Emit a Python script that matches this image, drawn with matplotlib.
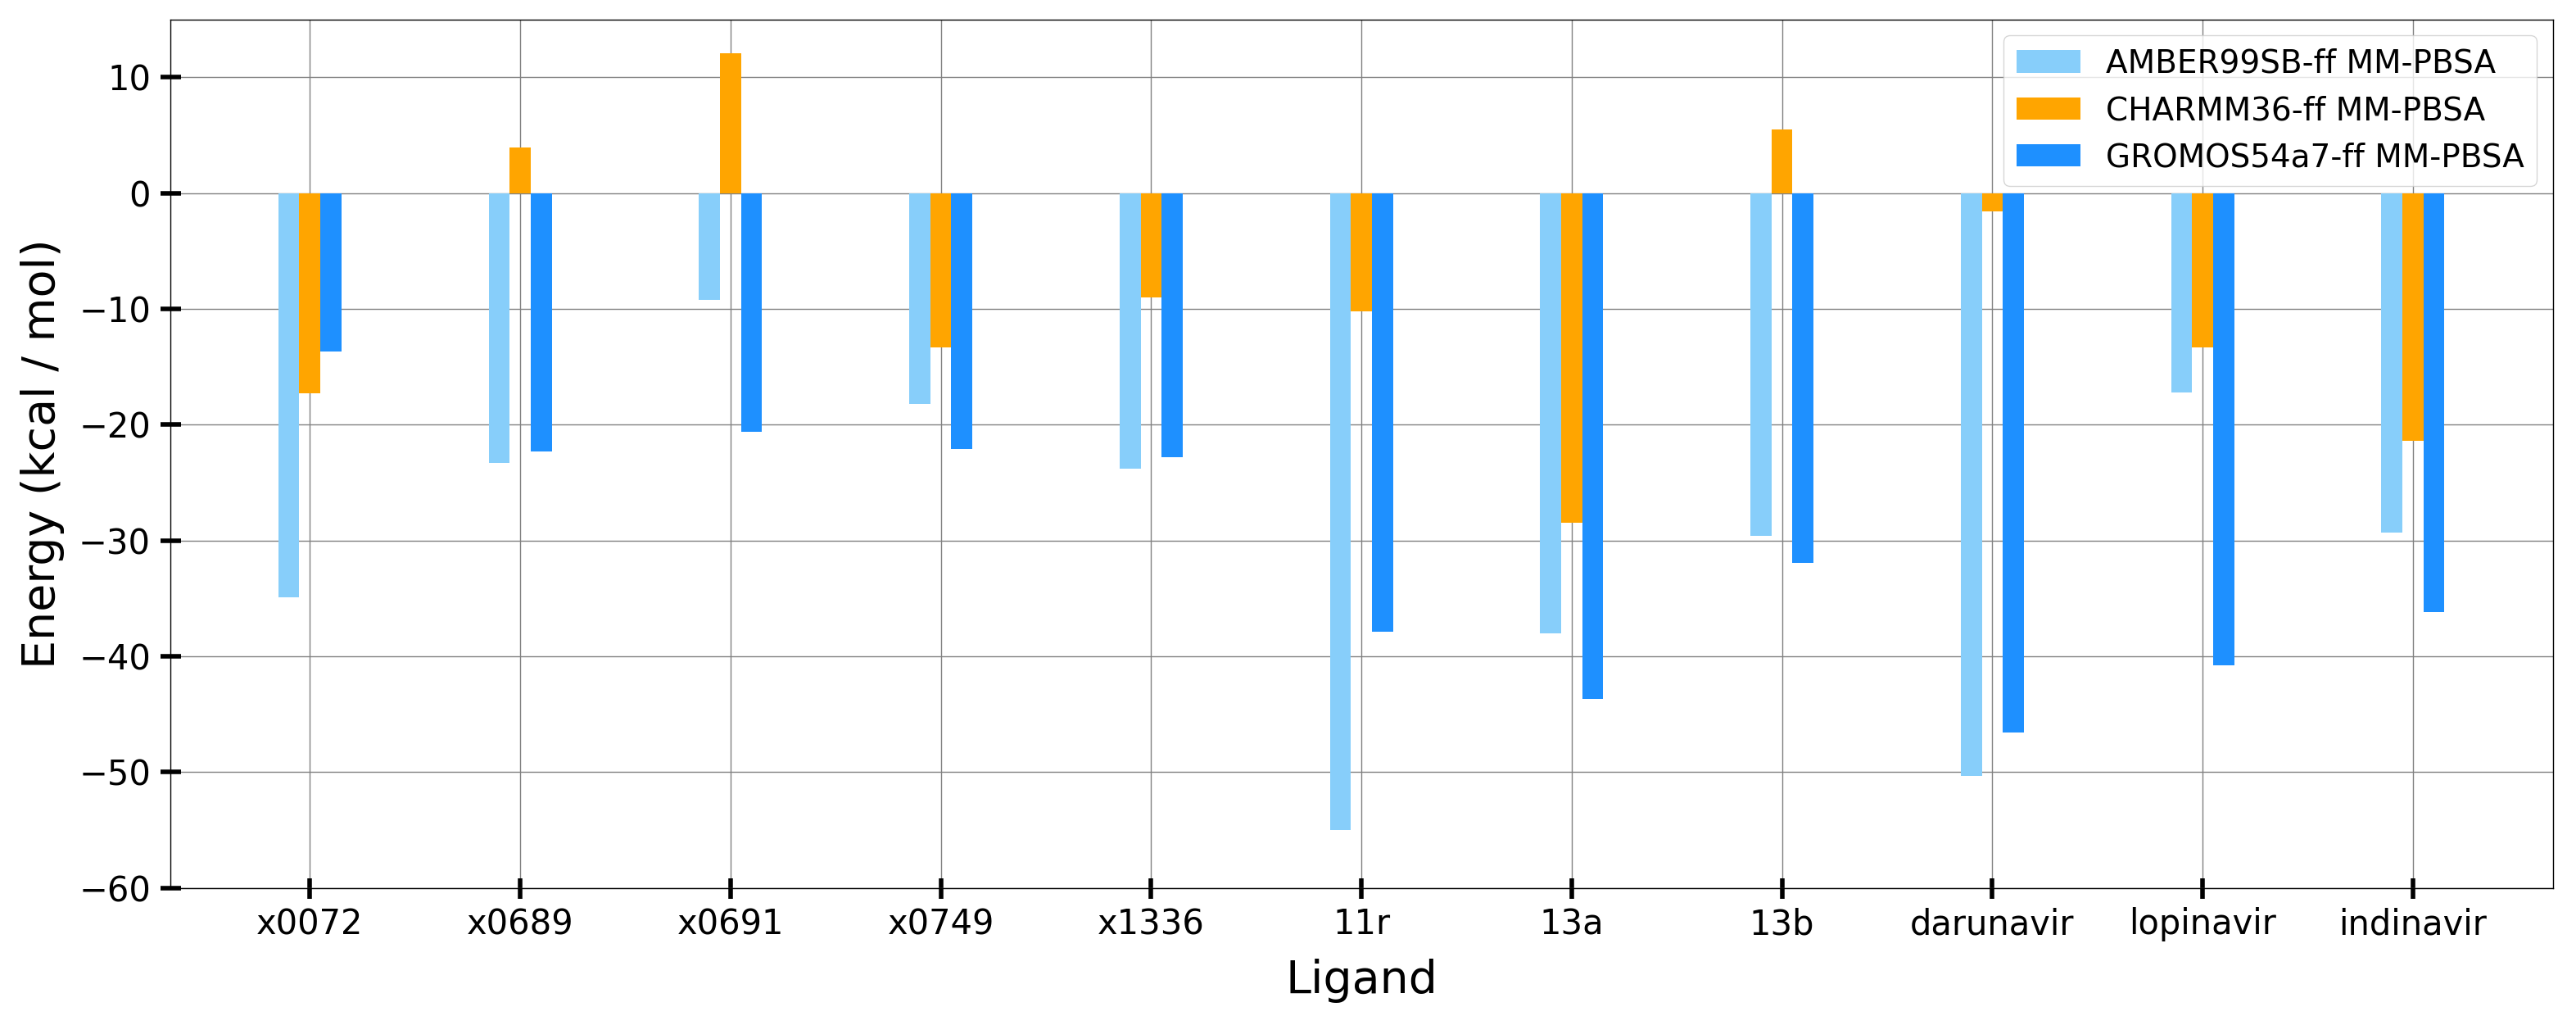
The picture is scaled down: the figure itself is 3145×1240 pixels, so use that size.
import matplotlib
matplotlib.use("Agg")
import matplotlib.pyplot as plt
import numpy as np

ligands = ["x0072", "x0689", "x0691", "x0749", "x1336", "11r", "13a", "13b",
           "darunavir", "lopinavir", "indinavir"]
amber = [-34.9, -23.3, -9.2, -18.2, -23.8, -55.0, -38.0, -29.6, -50.3, -17.2, -29.3]
charmm = [-17.3, 3.9, 12.1, -13.3, -9.0, -10.2, -28.5, 5.5, -1.6, -13.3, -21.4]
gromos = [-13.7, -22.3, -20.6, -22.1, -22.8, -37.9, -43.7, -31.9, -46.6, -40.8, -36.2]
series_labels = ["AMBER99SB-ff MM-PBSA", "CHARMM36-ff MM-PBSA", "GROMOS54a7-ff MM-PBSA"]
colors = ["lightskyblue", "orange", "dodgerblue"]

fig = plt.figure(figsize=(31.45, 12.4), dpi=100)
ax = fig.add_axes([0.066, 0.126, 0.925, 0.855])
x = np.arange(len(ligands))
w = 0.1
for i, (vals, lab, c) in enumerate(zip([amber, charmm, gromos], series_labels, colors)):
    ax.bar(x + (i - 1) * w, vals, width=w, color=c, label=lab)

ax.set_axisbelow(True)
ax.grid(True, color="gray", linewidth=1.0)
ax.set_ylim(-60, 15)
ax.set_xticks(x)
ax.set_xticklabels(ligands)
ax.tick_params(axis="both", direction="inout", length=18, width=4, labelsize=30, pad=8)
ax.set_xlabel("Ligand", fontsize=40, labelpad=15)
ax.set_ylabel("Energy (kcal / mol)", fontsize=40, labelpad=12)
for s in ax.spines.values():
    s.set_linewidth(1.0)
ax.legend(loc="upper right", fontsize=28)
fig.savefig("out.png", dpi=100)
